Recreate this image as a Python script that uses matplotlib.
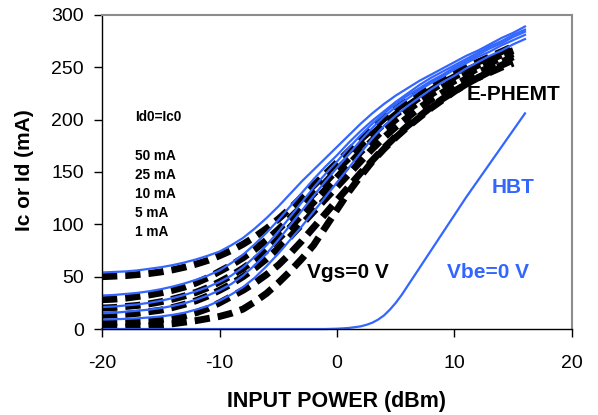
import matplotlib
matplotlib.use("Agg")
import matplotlib.pyplot as plt
import numpy as np

plt.rcParams["font.family"] = ["Liberation Sans", "DejaVu Sans"]
plt.rcParams["axes.unicode_minus"] = False

BLUE = "#3366ff"

# input power (dBm)
pin_hbt = np.arange(-20, 17)
pin_hemt = np.arange(-20, 16)
pin_vbe0 = [-20, -10, -5, -2, -1, 0, 1, 2, 2.5, 3, 3.5, 4, 4.5, 5, 5.5, 6, 6.5, 7,
            8, 9, 10, 11, 12, 13, 14, 15, 16]

bias_labels = ["50 mA", "25 mA", "10 mA", "5 mA", "1 mA"]

# HBT collector current (mA), Ic0 = 50, 25, 10, 5, 1 mA
ic_50 = [54, 54.5, 55, 56, 57.5, 59, 61, 63.5, 66.5, 70, 74, 80, 87, 96, 106, 117, 129, 141, 152, 163,
         174, 185, 196, 206, 215, 223, 230, 237, 243, 249, 255, 261, 266, 272, 278, 283, 289]
ic_25 = [32, 32.5, 33.5, 34.5, 36, 38, 40.5, 43.5, 47, 51, 56, 63, 71, 81, 92, 104, 117, 130, 143, 155,
         166, 178, 189, 199, 208, 217, 225, 233, 240, 246, 252, 258, 264, 270, 275, 281, 286]
ic_10 = [21, 21.5, 22.5, 23.5, 25, 27, 29.5, 32.5, 36, 40, 45, 51, 59, 69, 80, 93, 107, 121, 135, 148,
         160, 173, 185, 196, 206, 215, 223, 230, 237, 243, 250, 256, 262, 268, 273, 279, 284]
ic_5 = [15, 15.5, 16.5, 17.5, 18.5, 20, 22, 24.5, 28, 32, 37, 43, 51, 61, 72, 85, 99, 113, 127, 141,
        154, 167, 180, 192, 203, 212, 220, 228, 235, 241, 248, 254, 260, 265, 271, 276, 281]
ic_1 = [9, 9.3, 9.7, 10.2, 11, 12, 13.5, 15.5, 18.5, 22, 27, 33, 40, 49, 60, 72, 85, 98, 112, 126,
        140, 154, 168, 182, 194, 204, 213, 221, 229, 236, 242, 249, 255, 261, 266, 272, 277]
# HBT, Vbe = 0 V
ic_vbe0 = [0, 0, 0, 0, 0, 0.3, 1, 2.5, 4, 6, 9, 13, 18.5, 25, 32.5, 41, 49.5, 58,
           75, 92, 109, 126, 142, 158, 174, 190, 206]

# E-PHEMT drain current (mA), Id0 = 50, 25, 10, 5, 1 mA
id_50 = [50, 50.5, 51, 52, 53, 54.5, 56.5, 59, 62, 65.5, 70, 75, 81, 88, 96, 105, 115, 126, 137, 148,
         159, 170, 181, 191, 201, 210, 218, 226, 233, 239, 245, 250, 255, 260, 265, 270]
id_25 = [28, 28.5, 29.5, 31, 32.5, 34.5, 37, 40, 44, 49, 55, 61, 68, 76, 85, 95, 106, 117, 129, 140,
         152, 163, 175, 186, 196, 205, 213, 221, 228, 235, 241, 247, 252, 257, 262, 266]
id_10 = [20, 20.5, 21.5, 22.5, 24, 26, 28.5, 31.5, 35, 39.5, 45, 51, 58, 66, 75, 86, 97, 109, 121, 133,
         145, 157, 169, 180, 191, 200, 209, 217, 224, 231, 237, 243, 249, 254, 259, 263]
id_5 = [13, 13.5, 14, 15, 16.5, 18, 20.5, 23.5, 27, 31.5, 37, 43, 50, 58, 67, 77, 88, 100, 112, 124,
        136, 148, 160, 172, 183, 193, 202, 211, 219, 226, 233, 239, 245, 250, 255, 260]
id_1 = [6, 6.3, 6.7, 7.3, 8, 9, 10.5, 12.5, 15.5, 19.5, 25, 31, 37, 44, 52, 61, 72, 84, 97, 110,
        123, 136, 149, 161, 173, 184, 194, 203, 212, 220, 227, 234, 240, 246, 252, 257]
# E-PHEMT, Vgs = 0 V
id_vgs0 = [1, 1.3, 1.7, 2.2, 3, 4, 5, 6.5, 8, 10, 12, 15, 19, 26, 34, 44, 55, 67, 80, 97,
           114, 131, 146, 160, 172, 183, 193, 202, 211, 219, 227, 234, 240, 245, 250, 254]

hbt_curves = [ic_50, ic_25, ic_10, ic_5, ic_1]
hemt_curves = [id_50, id_25, id_10, id_5, id_1, id_vgs0]


def main():
    fig = plt.figure(figsize=(5.98, 4.15), dpi=100)
    ax = fig.add_axes([0.1706, 0.2072, 0.7859, 0.7567])

    # E-PHEMT: thick black dashes
    for curve in hemt_curves:
        ax.plot(pin_hemt, curve, color="black", lw=5, dashes=(2.2, 1.15),
                dash_capstyle="butt")

    # HBT: thin blue lines
    for curve in hbt_curves:
        ax.plot(pin_hbt, curve, color=BLUE, lw=1.6)
    ax.plot(pin_vbe0, ic_vbe0, color=BLUE, lw=1.6, clip_on=False)

    ax.set_xlim(-20, 20)
    ax.set_ylim(0, 300)
    ax.set_xticks([-20, -10, 0, 10, 20])
    ax.set_yticks(range(0, 301, 50))

    ax.tick_params(axis="both", direction="out", length=6, width=1, labelsize=14)
    ax.tick_params(axis="x", pad=13)
    ax.tick_params(axis="y", pad=7)

    for side in ["top", "right"]:
        ax.spines[side].set_color("#8c8c8c")
        ax.spines[side].set_linewidth(1.5)
    for side in ["left", "bottom"]:
        ax.spines[side].set_color("black")
        ax.spines[side].set_linewidth(1)

    ax.text(-17.19, 202.3, "Id0=Ic0", fontsize=9.8, fontweight="bold", ha="left", va="center")
    for i, lab in enumerate(bias_labels):
        ax.text(-17.19, 165.6 - i * 18.2, lab, fontsize=9.8, fontweight="bold",
                ha="left", va="center")

    ax.text(15.02, 223.6, "E-PHEMT", fontsize=15, fontweight="bold", ha="center", va="center")
    ax.text(0.92, 53.8, "Vgs=0 V", fontsize=15, fontweight="bold", ha="center", va="center")
    ax.text(14.96, 135.4, "HBT", fontsize=15, fontweight="bold", color=BLUE,
            ha="center", va="center")
    ax.text(12.81, 53.8, "Vbe=0 V", fontsize=15, fontweight="bold", color=BLUE,
            ha="center", va="center")

    fig.text(336.7 / 598, 1 - 401.7 / 415, "INPUT POWER (dBm)", fontsize=15.5,
             fontweight="bold", ha="center", va="center")
    fig.text(25 / 598, 1 - 170 / 415, "Ic or Id (mA)", fontsize=15, fontweight="bold",
             rotation=90, ha="center", va="center")

    fig.savefig("out.png", dpi=100)


if __name__ == "__main__":
    main()
